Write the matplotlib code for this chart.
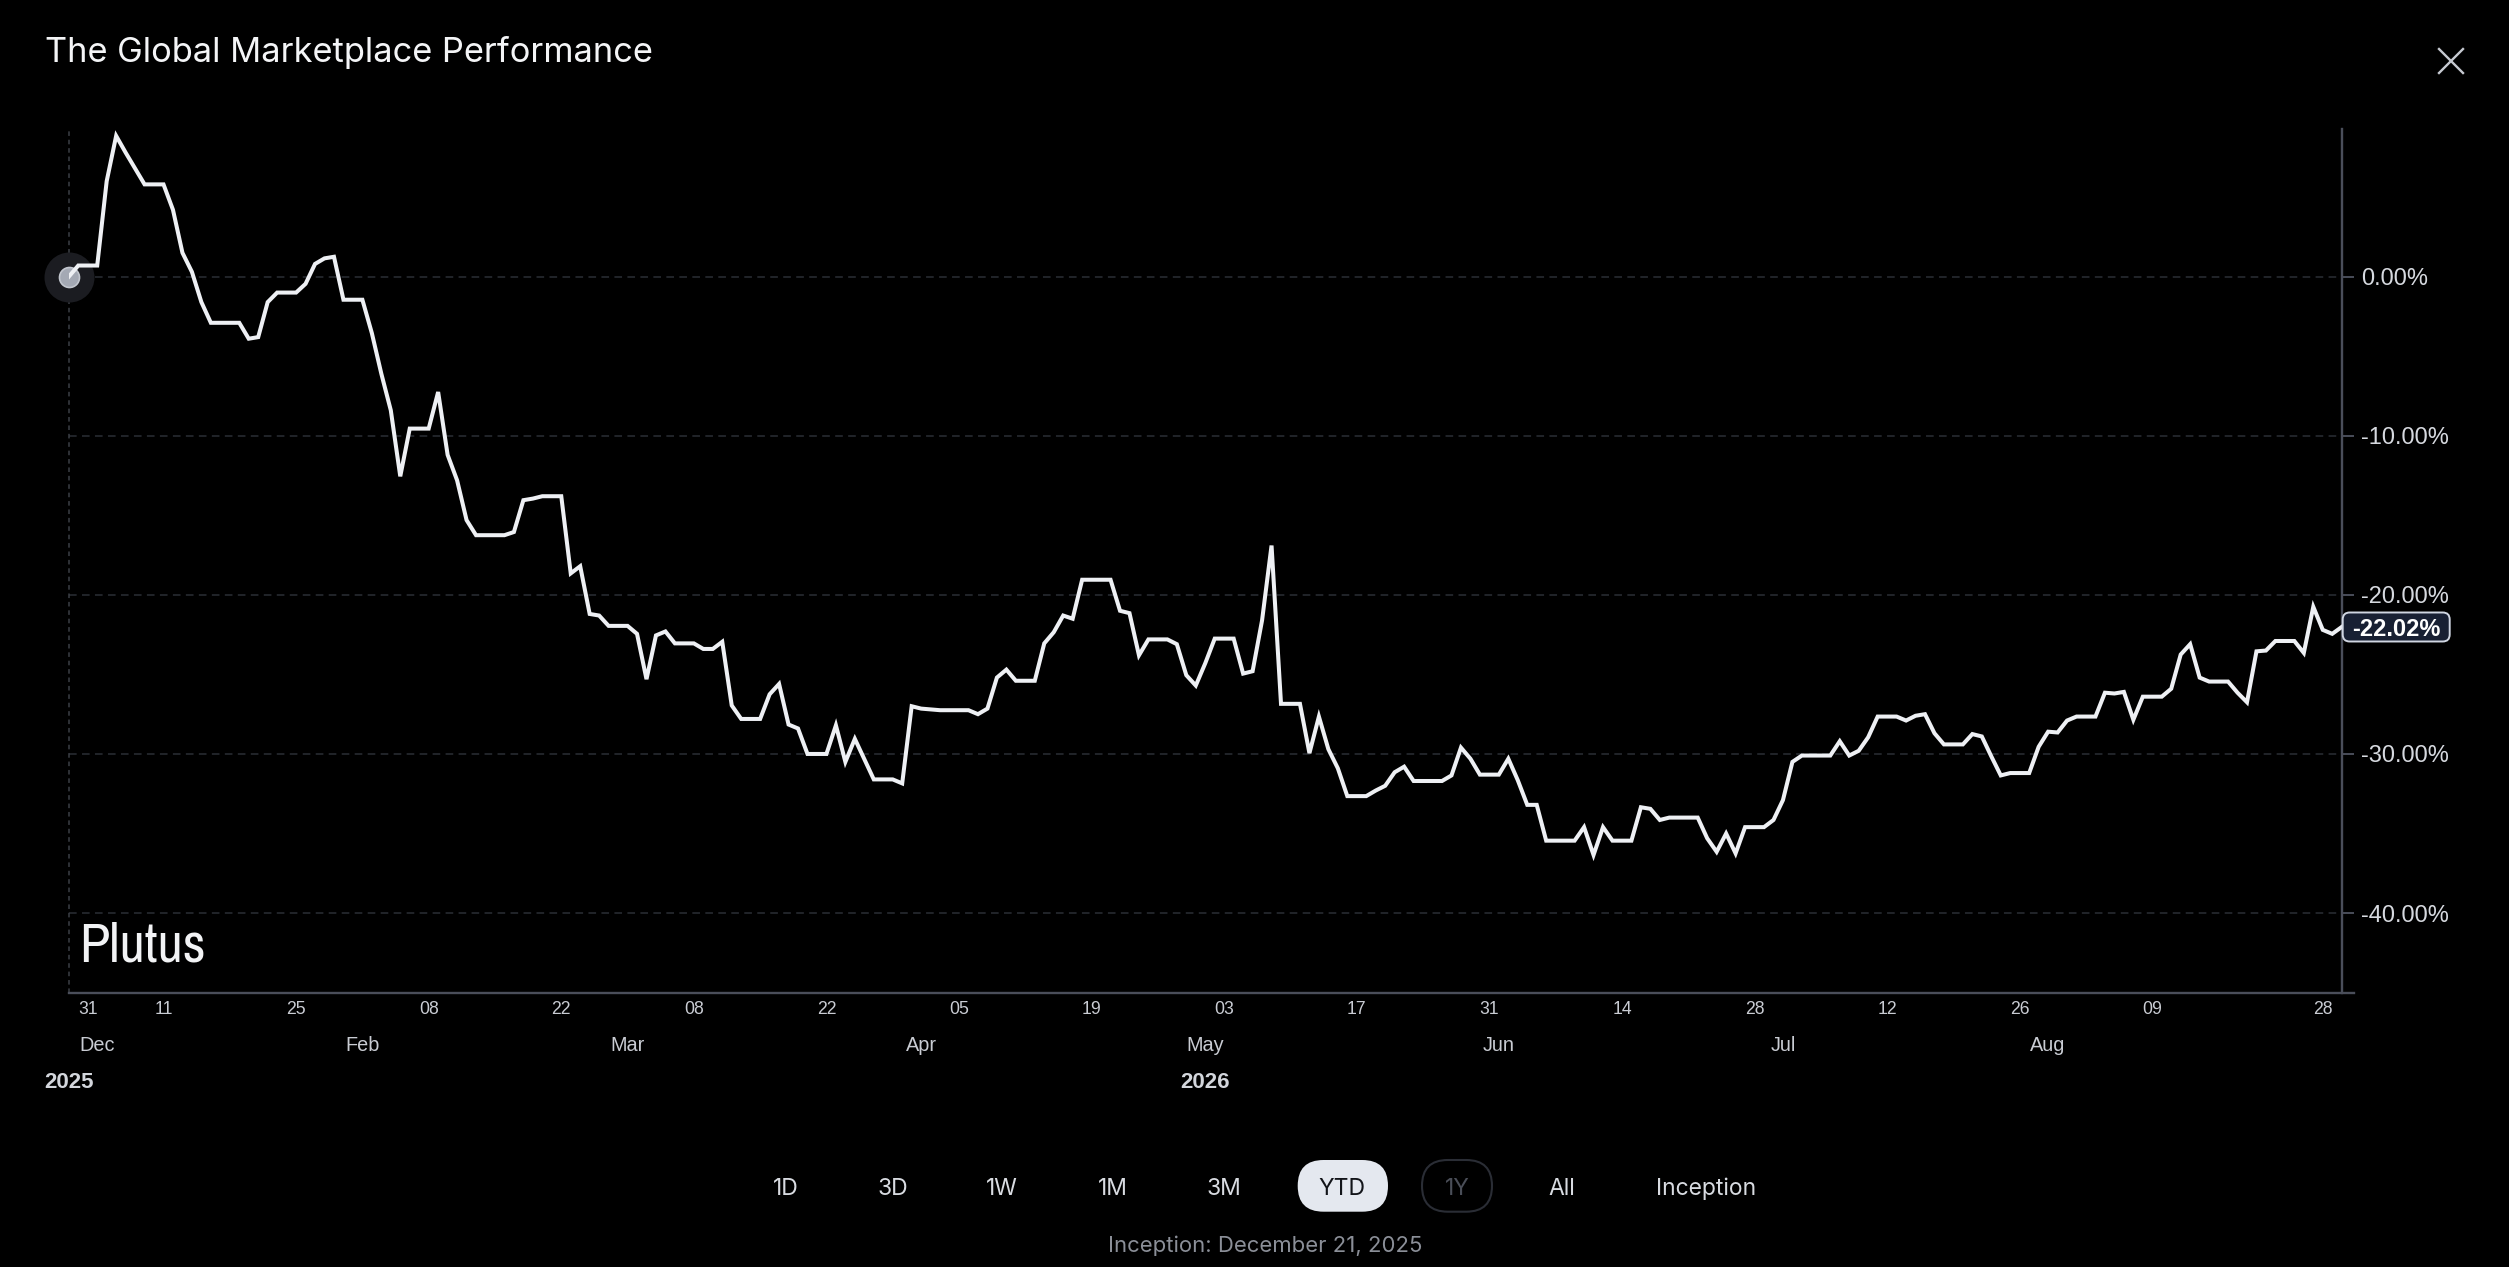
import matplotlib
matplotlib.use("Agg")
import matplotlib.pyplot as plt
from matplotlib import font_manager
from matplotlib.font_manager import FontProperties
from matplotlib.patches import FancyBboxPatch
from matplotlib.lines import Line2D
from matplotlib.transforms import IdentityTransform, blended_transform_factory

W, H, DPI = 2509, 1267, 100

# cumulative return (%) by day since the start of the window
days = [0, 1, 3, 4, 5, 6, 8, 10, 11, 12, 13, 14, 15, 18, 19, 20, 21, 22, 24, 25,
        26, 27, 28, 29, 31, 32, 33, 34, 35, 36, 38, 39, 40, 41, 42, 43, 46, 47, 48, 49,
        50, 52, 53, 54, 55, 56, 57, 59, 60, 61, 62, 63, 64, 66, 67, 68, 69, 70, 71, 73,
        74, 75, 76, 77, 78, 80, 81, 82, 83, 85, 87, 88, 89, 90, 92, 95, 96, 97, 98, 99,
        100, 102, 103, 104, 105, 106, 107, 110, 111, 112, 113, 114, 116, 117, 118, 119, 120, 121, 123, 124,
        125, 126, 127, 128, 130, 131, 132, 133, 134, 135, 137, 138, 139, 140, 141, 142, 145, 146, 147, 148,
        149, 151, 152, 153, 154, 155, 156, 159, 160, 161, 162, 163, 165, 166, 167, 168, 169, 172, 173, 174,
        175, 176, 177, 179, 180, 181, 182, 183, 186, 187, 188, 189, 190, 191, 193, 194, 195, 196, 197, 198,
        200, 201, 202, 203, 204, 205, 207, 208, 209, 210, 211, 212, 214, 215, 216, 217, 218, 219, 221, 222,
        223, 224, 225, 226, 228, 229, 230, 231, 232, 233, 235, 236, 237, 238, 239, 240]
returns = [0.0, 0.7, 0.7, 6.0, 8.85, 7.8, 5.8, 5.8, 4.2, 1.5, 0.3, -1.6, -2.9, -2.9, -3.9, -3.8, -1.6, -1.0, -1.0, -0.45,
           0.8, 1.15, 1.25, -1.45, -1.45, -3.55, -6.1, -8.4, -12.55, -9.55, -9.55, -7.25, -11.2, -12.8, -15.3, -16.25, -16.25, -16.05, -14.05, -13.95,
           -13.8, -13.8, -18.65, -18.2, -21.2, -21.3, -21.95, -21.95, -22.45, -25.3, -22.55, -22.3, -23.05, -23.05, -23.4, -23.4, -22.95, -26.95, -27.8, -27.8,
           -26.25, -25.6, -28.15, -28.4, -30.0, -30.0, -28.2, -30.5, -29.05, -31.6, -31.6, -31.85, -27.0, -27.15, -27.25, -27.25, -27.5, -27.15, -25.2, -24.7,
           -25.4, -25.4, -23.05, -22.35, -21.3, -21.5, -19.05, -19.05, -21.0, -21.15, -23.8, -22.8, -22.8, -23.1, -25.05, -25.7, -24.3, -22.75, -22.75, -24.95,
           -24.8, -21.6, -16.9, -26.85, -26.85, -29.95, -27.65, -29.7, -30.9, -32.65, -32.65, -32.3, -32.0, -31.15, -30.8, -31.7, -31.7, -31.35, -29.6, -30.3,
           -31.3, -31.3, -30.3, -31.65, -33.2, -33.2, -35.45, -35.45, -34.6, -36.35, -34.6, -35.45, -35.45, -33.35, -33.45, -34.15, -34.0, -34.0, -35.3, -36.15,
           -35.0, -36.25, -34.6, -34.6, -34.15, -32.9, -30.5, -30.1, -30.1, -29.2, -30.1, -29.8, -28.95, -27.65, -27.65, -27.9, -27.6, -27.5, -28.7, -29.4,
           -29.4, -28.75, -28.9, -30.15, -31.35, -31.2, -31.2, -29.55, -28.6, -28.65, -27.9, -27.65, -27.65, -26.15, -26.2, -26.1, -27.85, -26.4, -26.4, -25.9,
           -23.75, -23.1, -25.2, -25.45, -25.45, -26.15, -26.75, -23.55, -23.5, -22.9, -22.9, -23.65, -20.75, -22.2, -22.45, -22.02]
last_value = -22.02

tick_days = [2, 10, 24, 38, 52, 66, 80, 94, 108, 122, 136, 150, 164, 178, 192, 206, 220, 238]
tick_labels = ['31', '11', '25', '08', '22', '08', '22', '05', '19', '03', '17', '31', '14', '28', '12', '26', '09', '28']
month_days = [3, 31, 59, 90, 120, 151, 181, 209]
month_labels = ['Dec', 'Feb', 'Mar', 'Apr', 'May', 'Jun', 'Jul', 'Aug']
year_days = [0, 120]
year_labels = ['2025', '2026']
y_ticks = [0, -10, -20, -30, -40]

ranges = ['1D', '3D', '1W', '1M', '3M', 'YTD', '1Y', 'All', 'Inception']
active_range = 'YTD'
disabled_range = '1Y'
title = 'The Global Marketplace Performance'
watermark = 'Plutus'
inception_text = 'Inception: December 21, 2025'

# layout (image pixels, from top left)
range_x = [786, 893, 1002, 1113, 1224, 1342, 1457, 1562, 1706]

installed = {f.name for f in font_manager.fontManager.ttflist}
ui_font = 'Inter' if 'Inter' in installed else 'DejaVu Sans'
axis_font = 'Liberation Sans'


def fx(x):
    return x / W


def fy(y):
    return 1 - y / H


fig = plt.figure(figsize=(W / DPI, H / DPI), dpi=DPI, facecolor='black')
renderer = fig.canvas.get_renderer()


# the watermark is set in a narrow face: try the condensed fonts on the box
def narrow_props(size, target_w):
    cands = [FontProperties(family='Liberation Sans', size=size)]
    for f in font_manager.fontManager.ttflist:
        key = (f.name + ' ' + f.fname).lower()
        if not ('condensed' in key or 'narrow' in key or str(f.stretch) in ('condensed', 'semi-condensed', 'extra-condensed')):
            continue
        if 'mono' in key or 'serif' in key or f.style != 'normal' or f.weight not in (400, 'normal', 'regular'):
            continue
        cands.append(FontProperties(fname=f.fname, size=size))
    best, best_err = cands[0], None
    for fp in cands:
        t = fig.text(0, 0, watermark, fontproperties=fp)
        w = t.get_window_extent(renderer).width
        t.remove()
        err = abs(w - target_w)
        if best_err is None or err < best_err:
            best, best_err = fp, err
    return best


ax = fig.add_axes([fx(68.8), fy(992.6), (2341.7 - 68.8) / W, (992.6 - 128.7) / H])
ax.set_facecolor('black')
ax.set_xlim(0, 240)
ax.set_ylim(-45.0, 9.3)

axis_col = '#4a4e5a'
for side in ['top', 'left', 'bottom']:
    ax.spines[side].set_visible(False)
ax.spines['right'].set_color(axis_col)
ax.spines['right'].set_linewidth(1.7)
ax.add_line(Line2D([0, 1.0055], [0, 0], transform=ax.transAxes, color=axis_col,
                   lw=1.7, clip_on=False, zorder=3))

# y axis on the right
ax.yaxis.tick_right()
ax.set_yticks(y_ticks, [f'{v:.2f}%' for v in y_ticks])
ax.tick_params(axis='y', length=8.3, width=1.4, color=axis_col, pad=5.5,
               labelsize=17, labelcolor='#d6d9df')
for t in ax.get_yticklabels():
    t.set_fontfamily(axis_font)
ax.grid(axis='y', color='#2b2e35', linestyle=(0, (5, 3.5)), linewidth=1.1, zorder=1)

# x axis: day numbers, then months, then years
ax.set_xticks(tick_days, tick_labels)
ax.tick_params(axis='x', length=0, pad=5.8, labelsize=12.7, labelcolor='#c9ccd3')
for t in ax.get_xticklabels():
    t.set_fontfamily(axis_font)
xfig = blended_transform_factory(ax.transData, fig.transFigure)
for d, m in zip(month_days, month_labels):
    ax.text(d, fy(1050.7), m, transform=xfig, ha='center', va='baseline',
            fontsize=14.3, color='#c9ccd3', family=axis_font, clip_on=False)
for d, yl in zip(year_days, year_labels):
    ax.text(d, fy(1088.3), yl, transform=xfig, ha='center', va='baseline',
            fontsize=16, fontweight='bold', color='#d3d6dc', family=axis_font, clip_on=False)

# crosshair at the start
ax.axvline(0, color='#3c3f46', lw=1.1, linestyle=(0, (3, 2.5)), clip_on=False, zorder=2)

ax.plot(days, returns, color='#eef0f4', lw=2.9, solid_joinstyle='miter', zorder=5)
ax.plot(days[0], returns[0], 'o', ms=36, color='#1b1c21', mew=0, zorder=3, clip_on=False)
ax.plot(days[0], returns[0], 'o', ms=14.4, mfc='#a4a9b4', mec='#c2c6ce', mew=1.2,
        zorder=4, clip_on=False)

# last value tag
fig.canvas.draw()
ly = ax.transData.transform((240, last_value))[1]
lx = ax.transAxes.transform((1, 0))[0]
fig.add_artist(FancyBboxPatch((lx + 1, ly - 14.5), 107, 29,
                              boxstyle='round,pad=0,rounding_size=7',
                              fc='#182033', ec='#d0d6e2', lw=1.4,
                              transform=IdentityTransform(), zorder=6))
fig.text((lx + 55) / W, ly / H, f'{last_value:.2f}%', ha='center', va='center_baseline',
         fontsize=17, fontweight='bold', color='white', family=axis_font, zorder=7)

# watermark
fig.text(fx(79), fy(961.7), watermark, fontproperties=narrow_props(40, 126),
         color='#f2f3f5', va='baseline', ha='left')

# title and close icon
fig.text(fx(45), fy(61.7), title, fontsize=24.8, color='#f4f5f7', family=ui_font,
         va='baseline', ha='left')
for (x0, y0, x1, y1) in [(2439, 49, 2463, 73), (2439, 73, 2463, 49)]:
    fig.add_artist(Line2D([fx(x0), fx(x1)], [fy(y0), fy(y1)], transform=fig.transFigure,
                          color='#c6cad1', lw=1.7))

# range selector
for r, x in zip(ranges, range_x):
    col = '#d8dbe1'
    if r == active_range:
        fig.add_artist(FancyBboxPatch((1297.7, H - 1211.7), 90.3, 51.7,
                                      boxstyle='round,pad=0,rounding_size=25.8',
                                      fc='#e4e8ef', ec='none', transform=IdentityTransform()))
        col = '#121419'
    elif r == disabled_range:
        fig.add_artist(FancyBboxPatch((1422, H - 1211.7), 70, 51.7,
                                      boxstyle='round,pad=0,rounding_size=25.8',
                                      fc='none', ec='#2a2d35', lw=1.5, transform=IdentityTransform()))
        col = '#4a4e58'
    fig.text(fx(x), fy(1195), r, ha='center', va='baseline', fontsize=16.5,
             color=col, family=ui_font)

fig.text(fx(1265), fy(1251.7), inception_text, ha='center', va='baseline', fontsize=15.9,
         color='#8b8f98', family=ui_font)

fig.savefig('out.png', dpi=DPI, facecolor='black')
